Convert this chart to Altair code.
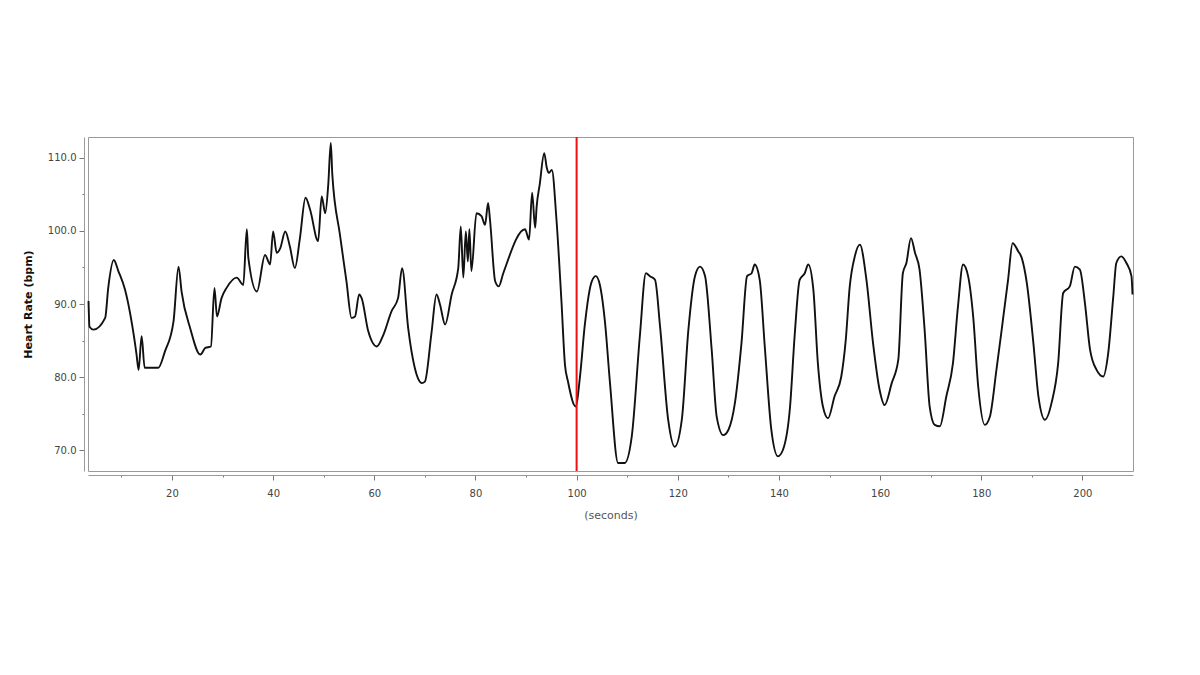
import pandas as pd
import altair as alt

# heart rate trace
seconds = [
    3.5, 3.7, 4.5, 6.8, 7.4, 8.5, 9.4, 10.7, 13.0, 13.4, 14.0, 14.6, 15.3, 17.3,
    18.6, 20.3, 21.3, 21.9, 23.6, 25.6, 26.6, 27.7, 28.4, 28.9, 29.8, 30.8, 32.8,
    34.1, 34.8, 35.1, 36.8, 38.4, 39.4, 40.0, 40.7, 41.4, 42.4, 43.3, 44.3, 45.3,
    46.4, 47.3, 48.9, 49.6, 50.3, 50.9, 51.4, 51.7, 53.2, 54.5, 55.5, 56.2, 57.0,
    57.5, 58.8, 60.5, 61.8, 63.4, 64.7, 65.5, 66.7, 68.0, 69.4, 70.0, 71.3, 72.3,
    73.0, 74.0, 75.3, 76.6, 77.1, 77.6, 78.1, 78.5, 78.8, 79.2, 80.2, 81.2, 81.9,
    82.5, 82.9, 83.9, 84.6, 85.5, 89.8, 90.6, 91.2, 91.8, 92.1, 92.7, 93.6, 94.1,
    94.5, 95.1, 96.0, 97.0, 97.7, 98.3, 99.8, 100.7, 101.6, 103.0, 103.8, 104.6,
    105.6, 106.6, 108.2, 109.5, 110.9, 112.5, 113.7, 114.5, 115.5, 116.5, 118.1,
    119.4, 120.8, 122.1, 123.4, 124.4, 125.4, 126.7, 127.7, 129.0, 130.0, 131.3,
    132.6, 133.7, 134.6, 135.2, 136.2, 137.2, 138.5, 139.8, 140.8, 142.2, 143.1,
    144.1, 145.1, 145.8, 146.8, 147.7, 148.7, 149.7, 151.0, 152.3, 153.2, 154.0,
    155.0, 156.0, 157.3, 158.6, 159.9, 160.9, 162.3, 163.6, 164.5, 165.2, 166.1,
    166.9, 167.8, 168.8, 169.8, 170.8, 171.8, 173.1, 174.4, 175.4, 176.4, 177.4,
    178.4, 179.4, 180.7, 181.7, 183.0, 184.3, 185.3, 186.2, 187.3, 188.0, 189.0,
    190.3, 191.3, 192.6, 193.9, 195.2, 196.2, 197.5, 198.5, 199.5, 200.5, 201.5,
    202.8, 204.1, 205.1, 206.1, 206.7, 207.7, 208.7, 209.7, 209.9,
]
bpm = [
    90.4, 86.9, 86.5, 88.1, 92.2, 96.0, 94.5, 92.0, 83.1, 81.0, 85.6, 81.3, 81.3, 81.3,
    83.5, 87.6, 95.1, 91.7, 86.7, 83.1, 84.0, 84.2, 92.2, 88.3, 90.8, 92.2, 93.6,
    92.6, 100.2, 96.3, 91.7, 96.7, 95.4, 99.9, 97.0, 97.6, 99.9, 97.9, 94.9, 99.0,
    104.5, 102.9, 98.6, 104.7, 102.4, 106.3, 112.0, 107.7, 99.5, 93.1, 88.1, 88.3, 91.3,
    90.8, 86.3, 84.2, 85.8, 89.0, 90.8, 94.9, 86.7, 81.3, 79.2, 79.4, 86.0, 91.3,
    89.9, 87.2, 91.3, 94.9, 100.6, 93.6, 99.9, 95.8, 100.2, 94.5, 102.4, 102.0, 100.8,
    103.8, 101.3, 93.1, 92.4, 94.2, 100.2, 98.8, 105.2, 100.4, 103.3, 106.3, 110.6, 108.6,
    107.9, 108.3, 101.7, 90.4, 81.7, 79.4, 76.0, 80.3, 87.0, 93.1, 93.8, 92.6,
    87.6, 79.2, 68.3, 68.3, 71.9, 85.6, 94.2, 93.8, 93.3, 86.9, 74.2,
    70.5, 74.2, 86.5, 93.8, 95.1, 93.8, 83.8, 74.6, 72.1, 72.8, 76.5,
    84.7, 93.8, 94.2, 95.4, 93.3, 84.2, 72.8, 69.2, 70.1, 76.0, 85.6,
    93.3, 94.2, 95.4, 92.0, 81.9, 76.0, 74.4, 77.4, 80.0, 85.0, 92.4,
    96.5, 98.1, 93.3, 84.7, 78.3, 76.2, 79.2, 82.4, 94.2, 95.6, 99.0,
    97.0, 94.7, 86.5, 76.0, 73.5, 73.3, 77.4, 81.9, 89.7, 95.4, 93.8,
    88.3, 78.7, 73.5, 74.6, 81.0, 87.9, 93.3, 98.3, 97.2, 96.3, 92.9,
    84.7, 77.4, 74.2, 76.5, 81.9, 91.5, 92.4, 95.1, 94.7, 90.1, 83.8,
    81.0, 80.1, 83.3, 91.0, 95.6, 96.5, 95.6, 93.8, 91.3,
]
marker_seconds = [100]

x_ticks = list(range(10, 201, 10))
y_ticks = list(range(70, 111, 5))

df = pd.DataFrame({"seconds": seconds, "bpm": bpm})
marker = pd.DataFrame({"seconds": marker_seconds})

x_scale = alt.Scale(domain=[3.4, 210], nice=False, zero=False)
y_scale = alt.Scale(domain=[67.2, 112.8], nice=False, zero=False)

x_axis = alt.Axis(
    values=x_ticks,
    labelExpr="datum.value % 20 == 0 ? datum.value : ''",
    tickSize=alt.condition("datum.value % 20 == 0", alt.value(5), alt.value(2)),
    offset=4,
    labelPadding=8,
    titlePadding=11,
    grid=False,
)
y_axis = alt.Axis(
    values=y_ticks,
    labelExpr="datum.value % 10 == 0 ? format(datum.value, '.1f') : ''",
    tickSize=alt.condition("datum.value % 10 == 0", alt.value(5), alt.value(2)),
    offset=4,
    labelPadding=3,
    titlePadding=14,
    titleFontWeight="bold",
    titleFontSize=11,
    titleColor="#111111",
    grid=False,
)

line = (
    alt.Chart(df)
    .mark_line(color="#111111", strokeWidth=1.9, interpolate="monotone")
    .encode(
        x=alt.X("seconds:Q", title="(seconds)", scale=x_scale, axis=x_axis),
        y=alt.Y("bpm:Q", title="Heart Rate (bpm)", scale=y_scale, axis=y_axis),
    )
)

rule = (
    alt.Chart(marker)
    .mark_rule(color="#ee1111", strokeWidth=2)
    .encode(x=alt.X("seconds:Q", scale=x_scale))
)

chart = (
    alt.layer(line, rule)
    .properties(
        width=1045,
        height=334,
        autosize=alt.AutoSizeParams(type="none"),
        padding={"left": 80, "top": 129, "right": 50, "bottom": 150},
        background="white",
    )
    .configure_view(stroke="#9a9a9a", strokeWidth=1)
    .configure_axis(
        labelFont="DejaVu Sans",
        labelFontSize=10,
        labelColor="#444444",
        titleFont="DejaVu Sans",
        titleFontSize=11,
        titleFontWeight="normal",
        titleColor="#555555",
        domainColor="#9a9a9a",
        tickColor="#777777",
    )
)

chart.save("out.html", embed_options={"renderer": "svg", "actions": False})
